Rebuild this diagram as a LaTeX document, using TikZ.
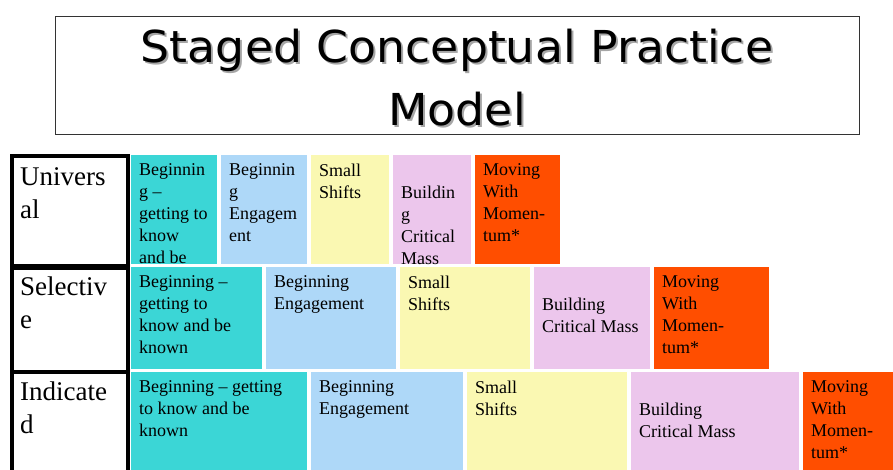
\documentclass[tikz,border=0pt]{standalone}
\usepackage{fontspec}
\setmainfont{Liberation Serif}
\newfontfamily\titlefont{DejaVu Sans}[FakeStretch=1.04]

\definecolor{knowncol}{RGB}{59,214,214}
\definecolor{engagecol}{RGB}{174,216,248}
\definecolor{shiftcol}{RGB}{250,248,178}
\definecolor{masscol}{RGB}{236,198,236}
\definecolor{momentcol}{RGB}{255,78,0}

\begin{document}
\begin{tikzpicture}[
	                 x = 1pt,
	                 y = -1pt,
	    titleline/.style = {anchor=base, inner sep=0pt, font=\titlefont\fontsize{44}{63}\selectfont},
	     tierhead/.style = {draw, line width=4pt, anchor=north west, minimum width=116pt, inner sep=0pt},
	     tiername/.style = {anchor=north west, align=left, inner sep=0pt, font=\fontsize{27}{33}\selectfont},
	        stage/.style = {anchor=north west, inner sep=0pt, outer sep=0pt},
	    stagetext/.style = {anchor=north west, align=left, inner sep=0pt, xshift=8pt, yshift=-8.5pt,
	                        font=\fontsize{18}{22}\selectfont},
	                     ]
	\useasboundingbox (0,0) rectangle (893,469);

	% title box, the heading has a grey drop shadow
	\node[draw=black!80, line width=1pt, anchor=north west, inner sep=0pt,
	      minimum width=804pt, minimum height=118pt] (titlebox) at (55,16) {};
	\node[titleline, text=black!35] (titleshadowA) at (459,64) {Staged Conceptual Practice};
	\node[titleline] (titleA) at (457,62) {Staged Conceptual Practice};
	\node[titleline, text=black!35] (titleshadowB) at (459,127) {Model};
	\node[titleline] (titleB) at (457,125) {Model};

	% tiers down the left
	\node[tierhead, minimum height=112pt] (universal) at (10,154) {};
	\node[tierhead, minimum height=106pt] (selective) at (10,264) {};
	\node[tierhead, minimum height=120pt] (indicated) at (10,370) {};
	\node[tiername] (universalname) at (20,167.5) {Univers\\al};
	\node[tiername] (selectivename) at (20,276.5) {Selectiv\\e};
	\node[tiername] (indicatedname) at (20,381.5) {Indicate\\d};

	% universal row
	\node[stage, fill=knowncol, minimum width=86pt, minimum height=109pt] (u1) at (131,155) {};
	\node[stage, fill=engagecol, minimum width=86pt, minimum height=109pt] (u2) at (221,155) {};
	\node[stage, fill=shiftcol, minimum width=78pt, minimum height=109pt] (u3) at (311,155) {};
	\node[stage, fill=masscol, minimum width=78pt, minimum height=109pt] (u4) at (393,155) {};
	\node[stage, fill=momentcol, minimum width=85pt, minimum height=109pt] (u5) at (475,155) {};
	\node[stagetext] (u1text) at (u1.north west) {Beginnin\\g --\\getting to\\know\\and be};
	\node[stagetext] (u2text) at (u2.north west) {Beginnin\\g\\Engagem\\ent};
	\node[stagetext] (u3text) at (u3.north west) {Small\\Shifts};
	\node[stagetext, yshift=-22pt] (u4text) at (u4.north west) {Buildin\\g\\Critical\\Mass};
	\node[stagetext] (u5text) at (u5.north west) {Moving\\With\\Momen-\\tum*};

	% selective row
	\node[stage, fill=knowncol, minimum width=131pt, minimum height=102pt] (s1) at (131,267) {};
	\node[stage, fill=engagecol, minimum width=130pt, minimum height=102pt] (s2) at (266,267) {};
	\node[stage, fill=shiftcol, minimum width=130pt, minimum height=102pt] (s3) at (400,267) {};
	\node[stage, fill=masscol, minimum width=116pt, minimum height=102pt] (s4) at (534,267) {};
	\node[stage, fill=momentcol, minimum width=115pt, minimum height=102pt] (s5) at (654,267) {};
	\node[stagetext] (s1text) at (s1.north west) {Beginning --\\getting to\\know and be\\known};
	\node[stagetext] (s2text) at (s2.north west) {Beginning\\Engagement};
	\node[stagetext] (s3text) at (s3.north west) {Small\\Shifts};
	\node[stagetext, yshift=-22pt] (s4text) at (s4.north west) {Building\\Critical Mass};
	\node[stagetext] (s5text) at (s5.north west) {Moving\\With\\Momen-\\tum*};

	% indicated row
	\node[stage, fill=knowncol, minimum width=176pt, minimum height=110pt] (i1) at (131,372) {};
	\node[stage, fill=engagecol, minimum width=152pt, minimum height=110pt] (i2) at (311,372) {};
	\node[stage, fill=shiftcol, minimum width=160pt, minimum height=110pt] (i3) at (467,372) {};
	\node[stage, fill=masscol, minimum width=168pt, minimum height=110pt] (i4) at (631,372) {};
	\node[stage, fill=momentcol, minimum width=110pt, minimum height=110pt] (i5) at (803,372) {};
	\node[stagetext] (i1text) at (i1.north west) {Beginning -- getting\\to know and be\\known};
	\node[stagetext] (i2text) at (i2.north west) {Beginning\\Engagement};
	\node[stagetext] (i3text) at (i3.north west) {Small\\Shifts};
	\node[stagetext, yshift=-22pt] (i4text) at (i4.north west) {Building\\Critical Mass};
	\node[stagetext] (i5text) at (i5.north west) {Moving\\With\\Momen-\\tum*};
\end{tikzpicture}
\end{document}
